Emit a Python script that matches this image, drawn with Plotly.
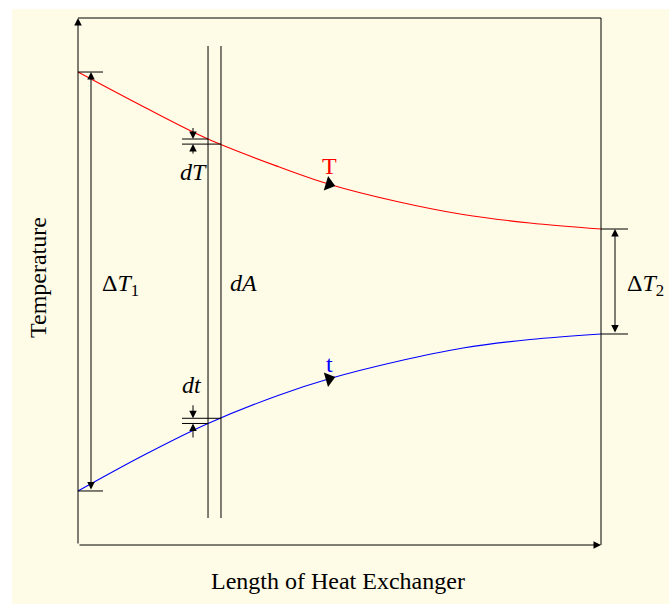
import numpy as np
import plotly.graph_objects as go

# ---- data (x = length 0..10, y = temperature 0..10) ----
length = [0.0, 1.281, 2.486, 3.824, 4.818, 6.099, 7.361, 8.642, 10.0]
hot_T = [8.975, 8.302, 7.704, 7.182, 6.841, 6.518, 6.271, 6.110, 5.996]
cold_t = [1.025, 1.717, 2.306, 2.837, 3.159, 3.482, 3.738, 3.899, 4.004]
strip_x = [2.486, 2.734]          # the dA element boundaries
arrow_x = 4.8                     # where the flow-direction arrows sit
x_title = "Length of Heat Exchanger"
y_title = "Temperature"

PXX, PXY = 52.3, 52.7             # pixels per data unit (x, y)
XR = [-78 / PXX, (669 - 78) / PXX]
YR = [-(604 - 545) / PXY, 545 / PXY]

FONT = "Liberation Serif"
BLACK = "#000000"
CREAM = "#fefbe6"
FS = 24

fig = go.Figure()

# curves
fig.add_trace(go.Scatter(x=length, y=hot_T, mode="lines",
                         line=dict(color="#ff0000", width=1.1, shape="spline", smoothing=1.0),
                         hoverinfo="skip", showlegend=False))
fig.add_trace(go.Scatter(x=length, y=cold_t, mode="lines",
                         line=dict(color="#0000ff", width=1.1, shape="spline", smoothing=1.0),
                         hoverinfo="skip", showlegend=False))

# direction arrow heads on curves
def head(series):
    y0 = np.interp(arrow_x, length, series)
    y1 = np.interp(arrow_x - 0.5, length, series)
    y2 = np.interp(arrow_x + 0.5, length, series)
    ang = -np.degrees(np.arctan2((y2 - y1) * PXY, 1.0 * PXX))
    return y0, ang

for s in (hot_T, cold_t):
    yy, ang = head(s)
    fig.add_trace(go.Scatter(x=[arrow_x], y=[yy], mode="markers",
                             marker=dict(symbol="triangle-right", size=13, angle=ang,
                                         color=BLACK, line=dict(width=0)),
                             hoverinfo="skip", showlegend=False))

shapes = []
# cream background panel
shapes.append(dict(type="rect", xref="x", yref="y", x0=(12 - 78) / PXX, x1=XR[1] + 1,
                   y0=YR[0] - 1, y1=(545 - 9) / PXY, fillcolor=CREAM, line=dict(width=0),
                   layer="below"))
# frame top and right
shapes.append(dict(type="line", x0=0, x1=10, y0=10, y1=10, line=dict(color=BLACK, width=1)))
shapes.append(dict(type="line", x0=10, x1=10, y0=0, y1=10, line=dict(color=BLACK, width=1)))
# dA strip
for sx in strip_x:
    shapes.append(dict(type="line", x0=sx, x1=sx, y0=(545 - 46) / PXY, y1=(545 - 518) / PXY,
                       line=dict(color=BLACK, width=1)))
# delta T1 ticks
t1_end = (103 - 78) / PXX
shapes.append(dict(type="line", x0=0, x1=t1_end, y0=hot_T[0], y1=hot_T[0], line=dict(color=BLACK, width=1)))
shapes.append(dict(type="line", x0=0, x1=t1_end, y0=cold_t[0], y1=cold_t[0], line=dict(color=BLACK, width=1)))
# delta T2 ticks
t2_end = (628 - 78) / PXX
shapes.append(dict(type="line", x0=10, x1=t2_end, y0=hot_T[-1], y1=hot_T[-1], line=dict(color=BLACK, width=1)))
shapes.append(dict(type="line", x0=10, x1=t2_end, y0=cold_t[-1], y1=cold_t[-1], line=dict(color=BLACK, width=1)))
# dT / dt small ticks
tick_start = (182 - 78) / PXX
Ta = np.interp(strip_x[0], length, hot_T); Tb = np.interp(strip_x[1], length, hot_T)
ta = np.interp(strip_x[0], length, cold_t); tb = np.interp(strip_x[1], length, cold_t)
for yv, xe in ((Ta, strip_x[0]), (Tb, strip_x[1]), (ta, strip_x[0]), (tb, strip_x[1])):
    shapes.append(dict(type="line", x0=tick_start, x1=xe, y0=yv, y1=yv, line=dict(color=BLACK, width=1)))

ann = []
def arrow(x0, y0, x1, y1, both=False):
    ann.append(dict(x=x1, y=y1, ax=x0, ay=y0, xref="x", yref="y", axref="x", ayref="y",
                    text="", showarrow=True, arrowhead=2, arrowsize=1.5, arrowwidth=1,
                    arrowcolor=BLACK, standoff=0, startstandoff=0,
                    arrowside="end+start" if both else "end", startarrowhead=2,
                    startarrowsize=1.5))

# axes
arrow(0, 0, 0, 10)
arrow(0, 0, 10, 0)
# delta T1, delta T2
arrow((91 - 78) / PXX, cold_t[0], (91 - 78) / PXX, hot_T[0], both=True)
arrow((615 - 78) / PXX, cold_t[-1], (615 - 78) / PXX, hot_T[-1], both=True)
# dT / dt arrows
ax_ = (193 - 78) / PXX
arrow(ax_, Ta + 12.5 / PXY, ax_, Ta)
arrow(ax_, Tb - 11 / PXY, ax_, Tb)
arrow(ax_, tb + 14.5 / PXY, ax_, tb)
arrow(ax_, ta - 15.5 / PXY, ax_, ta)

def label(x, y, txt, color=BLACK, size=FS, angle=0):
    ann.append(dict(x=x, y=y, xref="x", yref="y", text=txt, showarrow=False,
                    font=dict(family=FONT, size=size, color=color), textangle=angle,
                    xanchor="center", yanchor="middle"))

label((338 - 78) / PXX, (545 - 581) / PXY, x_title)
label((38 - 78) / PXX, (545 - 278) / PXY, y_title, angle=-90)
label((120 - 78) / PXX, (545 - 285) / PXY, "Δ<i>T</i><sub>1</sub>")
label((243 - 78) / PXX, (545 - 283) / PXY, "<i>dA</i>")
label((645 - 78) / PXX, (545 - 285) / PXY, "Δ<i>T</i><sub>2</sub>")
label((193 - 78) / PXX, (545 - 172) / PXY, "<i>dT</i>")
label((192 - 78) / PXX, (545 - 385) / PXY, "<i>dt</i>")
label(arrow_x, (545 - 166) / PXY, "T", color="#ff0000")
label(arrow_x, (545 - 364) / PXY, "t", color="#0000ff")

fig.update_layout(width=669, height=604, margin=dict(l=0, r=0, t=0, b=0),
                  paper_bgcolor="white", plot_bgcolor="rgba(0,0,0,0)",
                  shapes=shapes, annotations=ann, showlegend=False,
                  xaxis=dict(range=XR, visible=False, fixedrange=True),
                  yaxis=dict(range=YR, visible=False, fixedrange=True))
fig.write_html("out.html")
